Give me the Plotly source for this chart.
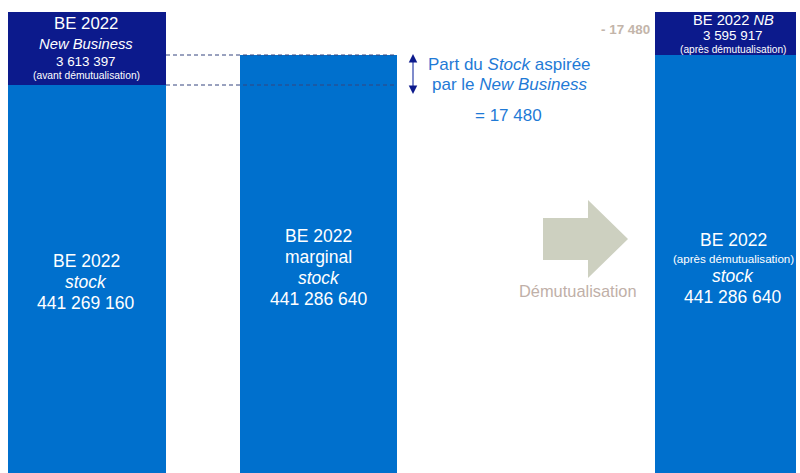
import plotly.graph_objects as go

# Best-estimate amounts (in euros)
bars = ["BE 2022 stock", "BE 2022 marginal stock", "BE 2022 après démutualisation"]
stock_values = [441269160, 441286640, 441286640]
nb_values = [3613397, None, 3595917]
stock_drawn = 17480  # part du stock aspirée par le New Business

W, H = 800, 473
TOP, BOTTOM = 12, 0
BLUE = "#0070CD"
NAVY = "#0C1A8C"
FONT = "Arial, Liberation Sans, sans-serif"

# bar geometry (x axis runs in pixels 0..800)
centers = [87, 318.5, 725.5]
widths = [158, 157, 141]
label_x = [86, 318.5, 733]


def fmt(v):
    return f"{v:,}".replace(",", " ")


def py(pixel_y):
    """Convert a pixel row to paper coordinates of the plot area."""
    return (H - BOTTOM - pixel_y) / (H - TOP - BOTTOM)


# truncated value axis: stock levels sit low, the New Business blocks run past the top
scale = stock_drawn / 30.0
y_lo = stock_values[0] - 388 * scale
y_hi = stock_values[1] + 43 * scale

fig = go.Figure()
fig.add_trace(go.Bar(
    x=centers, y=stock_values, width=widths,
    marker=dict(color=BLUE, line=dict(width=0)),
    hoverinfo="skip",
))
fig.add_trace(go.Bar(
    x=centers, y=nb_values, base=stock_values, width=widths,
    marker=dict(color=NAVY, line=dict(width=0)),
    hoverinfo="skip",
))

ann = []


def txt(x, y, text, size, color="white", italic=False, bold=False):
    if italic:
        text = f"<i>{text}</i>"
    if bold:
        text = f"<b>{text}</b>"
    ann.append(dict(x=x, y=py(y), xref="x", yref="paper", text=text,
                    showarrow=False, xanchor="center", yanchor="middle",
                    font=dict(family=FONT, size=size, color=color)))


# New Business block, first bar
txt(label_x[0], 24, "BE 2022", 16.8)
txt(label_x[0], 44, "New Business", 14.8, italic=True)
txt(label_x[0], 61, fmt(nb_values[0]), 13.4)
txt(label_x[0], 75, "(avant démutualisation)", 10.3)
# stock block, first bar
txt(label_x[0], 261, "BE 2022", 17.5)
txt(label_x[0], 282, "stock", 17.5, italic=True)
txt(label_x[0], 303, fmt(stock_values[0]), 17.5)

# marginal stock bar
txt(label_x[1], 236, "BE 2022", 17.5)
txt(label_x[1], 257, "marginal", 17.5)
txt(label_x[1], 278, "stock", 17.5, italic=True)
txt(label_x[1], 299, fmt(stock_values[1]), 17.5)

# New Business block, third bar
txt(label_x[2], 20, "BE 2022 <i>NB</i>", 14.7)
txt(label_x[2], 36, fmt(nb_values[2]), 13.4)
txt(label_x[2], 50, "(après démutualisation)", 10.2)
# stock block, third bar
txt(label_x[2], 240, "BE 2022", 17.5)
txt(label_x[2], 258, "(après démutualisation)", 11.6)
txt(label_x[2], 276, "stock", 17.5, italic=True)
txt(label_x[2], 297, fmt(stock_values[2]), 17.5)

# drawn-stock note
NOTE = "#1F7AD6"
txt(509, 64, "Part du <i>Stock</i> aspirée", 17, color=NOTE)
txt(509, 85, "par le <i>New Business</i>", 17, color=NOTE)
txt(508, 115, "= " + fmt(stock_drawn), 17, color=NOTE)
txt(625.5, 30, "- " + fmt(stock_drawn), 13.4, color="#C3B5AA", bold=True)
txt(577.5, 291, "Démutualisation", 16.4, color="#BFB0A8")

# double arrow beside the drawn stock (tips at rows 54 and 94)
for tip, offset in [(54, 7), (94, -7)]:
    ann.append(dict(x=413, y=py(tip), xref="x", yref="paper",
                    ax=0, ay=offset, axref="pixel", ayref="pixel",
                    text="", showarrow=True,
                    arrowhead=2, arrowsize=1, arrowwidth=1.7,
                    arrowcolor=NAVY, standoff=0))

shapes = []
# dashed guides at both stock levels
for lvl in (stock_values[1], stock_values[0]):
    shapes.append(dict(type="line", xref="x", yref="y", x0=166, x1=397,
                       y0=lvl, y1=lvl,
                       line=dict(color="#34447E", width=1, dash="4px,3px")))
# shaft of the double arrow
shapes.append(dict(type="line", xref="x", yref="paper", x0=413, x1=413,
                   y0=py(60), y1=py(88),
                   line=dict(color="#7F8BCB", width=2)))
# "Démutualisation" block arrow
pts = [(543, 218), (588, 218), (588, 200), (628, 239), (588, 278), (588, 260), (543, 260)]
path = "M " + " L ".join(f"{x},{py(y):.5f}" for x, y in pts) + " Z"
shapes.append(dict(type="path", xref="x", yref="paper", path=path,
                   fillcolor="#CDD0C0", line=dict(width=0)))

fig.update_layout(
    width=W, height=H,
    margin=dict(l=0, r=0, t=TOP, b=BOTTOM),
    paper_bgcolor="white", plot_bgcolor="white",
    barmode="overlay", showlegend=False,
    xaxis=dict(range=[0, W], visible=False, fixedrange=True),
    yaxis=dict(range=[y_lo, y_hi], visible=False, fixedrange=True),
    annotations=ann, shapes=shapes,
)

fig.write_html("out.html", config={"displayModeBar": False})
